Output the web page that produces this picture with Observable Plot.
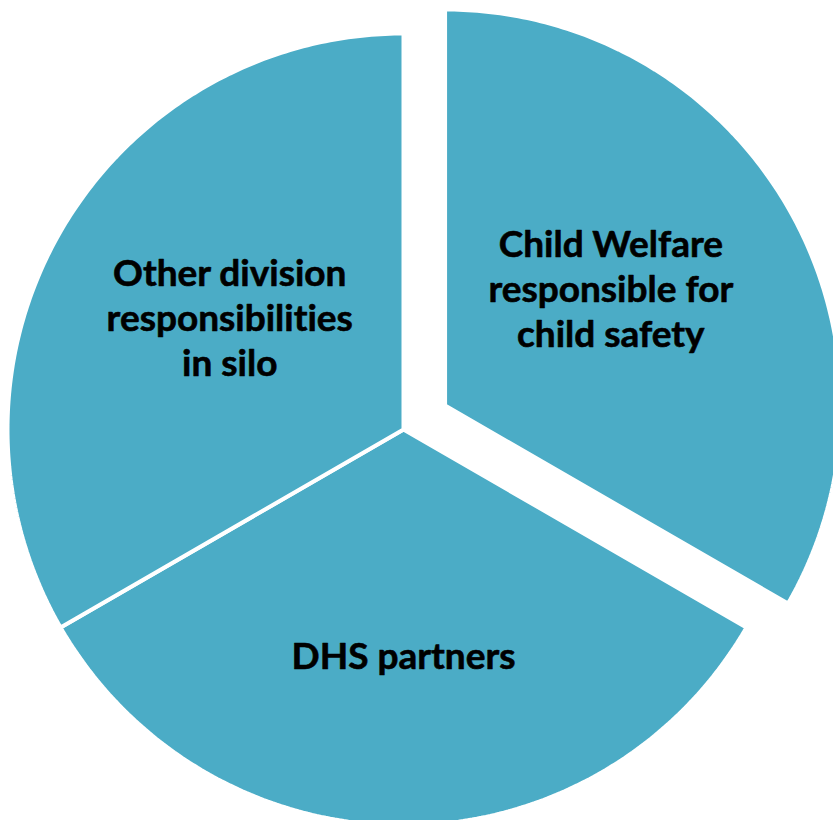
<!DOCTYPE html>
<html><head><meta charset="utf-8">
<script src="https://cdn.jsdelivr.net/npm/d3@7"></script>
<script src="https://cdn.jsdelivr.net/npm/@observablehq/plot@0.6"></script>
<style>body{margin:0;background:#fff}#chart svg{display:block;font-variant-ligatures:none;font-feature-settings:"liga" 0,"dlig" 0}</style>
</head><body><div id="chart"></div>
<script>
// ---- data ----
const categories = ["Child Welfare responsible for child safety", "DHS partners", "Other division responsibilities in silo"];
const labels = ["Child Welfare\nresponsible for\nchild safety", "DHS partners", "Other division\nresponsibilities\nin silo"];
const values = [1, 1, 1];
const exploded = [true, false, false];

// ---- layout ----
const W = 833, H = 820, cx = 403, cy = 429, R = 396;
const explodeFrac = 48 / R;
const labelFrac = 0.53;
const labelNudge = [[-16, -13], [0, 15], [8, -8]];

const pie = d3.pie().sort(null)(values);
const pts = [];
const labelPts = [];
pie.forEach((p, i) => {
  const mid = (p.startAngle + p.endAngle) / 2;
  const ox = exploded[i] ? explodeFrac * Math.sin(mid) : 0;
  const oy = exploded[i] ? explodeFrac * Math.cos(mid) : 0;
  pts.push({cat: categories[i], x: ox, y: oy});
  const n = 180;
  for (let k = 0; k <= n; k++) {
    const a = p.startAngle + (p.endAngle - p.startAngle) * k / n;
    pts.push({cat: categories[i], x: ox + Math.sin(a), y: oy + Math.cos(a)});
  }
  pts.push({cat: categories[i], x: ox, y: oy});
  labelPts.push({label: labels[i], x: ox + labelFrac * Math.sin(mid), y: oy + labelFrac * Math.cos(mid), dx: labelNudge[i][0], dy: labelNudge[i][1]});
});

const chart = Plot.plot({
  width: W, height: H,
  margin: 0,
  x: {domain: [-cx / R, (W - cx) / R], axis: null},
  y: {domain: [-(H - cy) / R, cy / R], axis: null},
  style: {background: "#fff"},
  marks: [
    Plot.line(pts, {x: "x", y: "y", z: "cat", fill: "#4BACC6", stroke: "#fff", strokeWidth: 4, strokeLinejoin: "miter", curve: "linear"}),
    ...labelPts.map(d => Plot.text([d], {
      x: "x", y: "y", text: "label", dx: d.dx, dy: d.dy,
      fontFamily: "Lato", fontWeight: "bold", fontSize: 37, lineHeight: 1.22,
      fill: "#000", stroke: "#000", strokeWidth: 0.6, textAnchor: "middle", lineAnchor: "middle"
    }))
  ]
});
document.getElementById("chart").append(chart);
</script>
</body></html>
